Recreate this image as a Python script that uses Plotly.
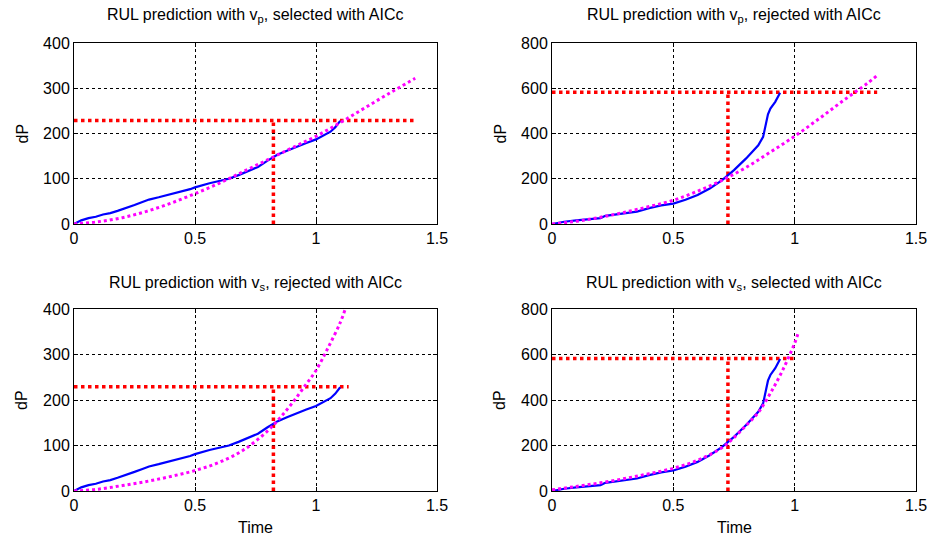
import plotly.graph_objects as go

# Measured data (left panels share one dataset, right panels share another)
t_left = [0, 0.03, 0.06, 0.09, 0.12, 0.15, 0.18, 0.21, 0.25, 0.28, 0.31, 0.35, 0.38, 0.42,
          0.45, 0.48, 0.5, 0.53, 0.56, 0.6, 0.64, 0.68, 0.72, 0.76, 0.8, 0.84, 0.88, 0.92,
          0.96, 1.0, 1.03, 1.06, 1.08, 1.1]
dp_left = [0, 8, 13, 16, 21, 24, 29, 34, 42, 48, 54, 59, 63, 68, 73, 77, 81, 86, 90, 95,
           100, 108, 117, 126, 140, 153, 162, 171, 179, 187, 195, 204, 214, 228]

t_right = [0, 0.05, 0.1, 0.15, 0.2, 0.22, 0.25, 0.3, 0.35, 0.4, 0.45, 0.5, 0.55, 0.6, 0.65,
           0.7, 0.72, 0.75, 0.8, 0.85, 0.87, 0.88, 0.89, 0.9, 0.92, 0.94]
dp_right = [0, 10, 16, 20, 26, 36, 41, 48, 55, 70, 82, 90, 107, 128, 157, 193, 210, 238,
            290, 348, 385, 430, 485, 510, 540, 580]

# Predictions
pred_tl_t = [0, 0.1, 0.2, 0.3, 0.4, 0.5, 0.6, 0.7, 0.8, 0.9, 1.0, 1.1, 1.2, 1.3, 1.41]
pred_tl = [0, 5, 14, 28, 46, 67, 90, 116, 142, 168, 194, 224, 256, 288, 322]

pred_tr_t = [0, 0.1, 0.2, 0.3, 0.4, 0.5, 0.6, 0.7, 0.8, 0.9, 1.0, 1.1, 1.2, 1.3, 1.346]
pred_tr = [0, 12, 30, 52, 77, 105, 145, 193, 250, 318, 388, 465, 545, 622, 662]

pred_bl_t = [0, 0.1, 0.2, 0.3, 0.4, 0.5, 0.6, 0.7, 0.8, 0.85, 0.9, 0.95, 1.0, 1.05, 1.1, 1.121]
pred_bl = [0, 4, 12, 21, 32, 45, 63, 90, 132, 160, 192, 228, 265, 315, 370, 400]

pred_br_t = [0, 0.1, 0.2, 0.3, 0.4, 0.5, 0.6, 0.7, 0.75, 0.8, 0.85, 0.9, 0.95, 1.0, 1.016]
pred_br = [5, 20, 36, 55, 76, 100, 135, 190, 235, 288, 345, 430, 530, 650, 700]

# Thresholds / prediction times
thr_left = 229
thr_right = 582
tp_left = 0.824
tp_right = 0.725
thr_end = [1.404, 1.34, 1.135, 1.0]  # tl, tr, bl, br

titles = [
    "RUL prediction with v<sub>p</sub>, selected with AICc",
    "RUL prediction with v<sub>p</sub>, rejected with AICc",
    "RUL prediction with v<sub>s</sub>, rejected with AICc",
    "RUL prediction with v<sub>s</sub>, selected with AICc",
]

W, H = 929, 539
FONT = "Liberation Sans, Arial, sans-serif"
FS = 16

# pixel boxes (x0, x1, ytop, ybottom)
boxes = [(74, 437, 43, 224), (552, 916, 43, 224), (74, 437, 309, 491), (552, 916, 309, 491)]

panels = [
    (t_left, dp_left, pred_tl_t, pred_tl, thr_left, tp_left, thr_end[0], 400, 100),
    (t_right, dp_right, pred_tr_t, pred_tr, thr_right, tp_right, thr_end[1], 800, 200),
    (t_left, dp_left, pred_bl_t, pred_bl, thr_left, tp_left, thr_end[2], 400, 100),
    (t_right, dp_right, pred_br_t, pred_br, thr_right, tp_right, thr_end[3], 800, 200),
]

fig = go.Figure()
annotations = []
for i, (box, p) in enumerate(zip(boxes, panels)):
    n = i + 1
    xa = "x" if n == 1 else f"x{n}"
    ya = "y" if n == 1 else f"y{n}"
    tm, dm, tpt, pv, thr, tp, tend, ymax, ydt = p
    # red threshold lines
    fig.add_trace(go.Scatter(x=[0, tend], y=[thr, thr], mode="lines",
                             line=dict(color="#ff0000", width=3.5, dash="dot"),
                             xaxis=xa, yaxis=ya, showlegend=False))
    fig.add_trace(go.Scatter(x=[tp, tp], y=[0, thr], mode="lines",
                             line=dict(color="#ff0000", width=3.5, dash="dot"),
                             xaxis=xa, yaxis=ya, showlegend=False))
    # measured
    fig.add_trace(go.Scatter(x=tm, y=dm, mode="lines",
                             line=dict(color="#0000ff", width=2.2),
                             xaxis=xa, yaxis=ya, showlegend=False))
    # prediction
    fig.add_trace(go.Scatter(x=tpt, y=pv, mode="lines", line_shape="spline",
                             line=dict(color="#ff00ff", width=3, dash="dot"),
                             xaxis=xa, yaxis=ya, showlegend=False))

    x0, x1, yt, yb = box
    common = dict(showline=True, mirror="ticks", linecolor="black", linewidth=1,
                  showgrid=True, gridcolor="black", gridwidth=1, griddash="dot",
                  ticks="inside", ticklen=4, tickcolor="black", zeroline=False,
                  automargin=False,
                  tickfont=dict(family=FONT, size=FS, color="black"))
    xkey = "xaxis" if n == 1 else f"xaxis{n}"
    ykey = "yaxis" if n == 1 else f"yaxis{n}"
    xaxis = dict(common, domain=[x0 / W, x1 / W], range=[0, 1.5],
                 tickvals=[0, 0.5, 1, 1.5], ticktext=["0", "0.5", "1", "1.5"],
                 anchor=ya)
    yaxis = dict(common, domain=[1 - yb / H, 1 - yt / H], range=[0, ymax],
                 dtick=ydt, tick0=0, anchor=xa)
    fig.update_layout(**{xkey: xaxis, ykey: yaxis})
    cx = (x0 + x1) / 2 / W
    annotations.append(dict(text=titles[i], xref="paper", yref="paper",
                            x=cx, y=1 - 16 / H if n <= 2 else 1 - 283 / H,
                            xanchor="center", yanchor="middle", showarrow=False,
                            font=dict(family=FONT, size=FS, color="black")))
    annotations.append(dict(text="dP", xref="paper", yref="paper",
                            x=(x0 - 52) / W, y=1 - (yt + yb) / 2 / H, textangle=-90,
                            xanchor="center", yanchor="middle", showarrow=False,
                            font=dict(family=FONT, size=FS, color="black")))
    if n >= 3:
        annotations.append(dict(text="Time", xref="paper", yref="paper",
                                x=cx, y=1 - 527 / H,
                                xanchor="center", yanchor="middle", showarrow=False,
                                font=dict(family=FONT, size=FS, color="black")))

fig.update_layout(width=W, height=H, margin=dict(l=0, r=0, t=0, b=0),
                  paper_bgcolor="white", plot_bgcolor="white",
                  annotations=annotations, showlegend=False)
fig.write_html("out.html", config={"displayModeBar": False},
               post_script="document.body.style.margin='0';")
